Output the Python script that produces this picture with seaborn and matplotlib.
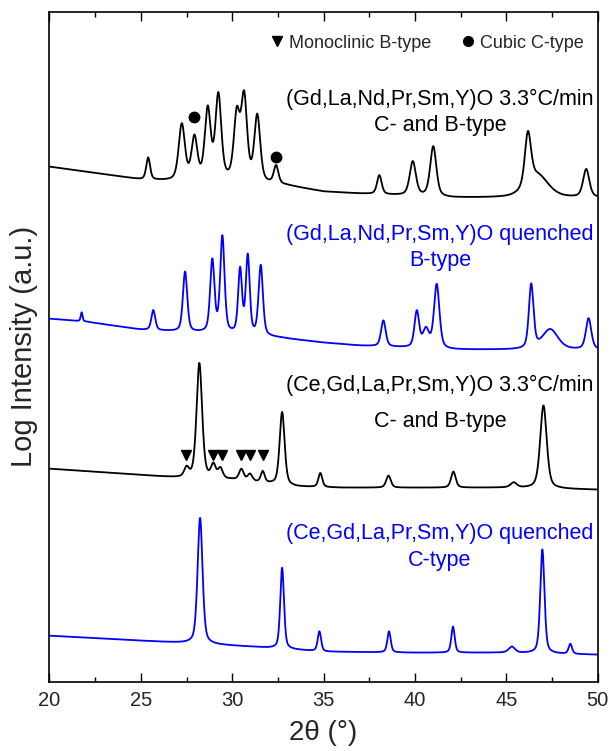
import numpy as np
import pandas as pd
import matplotlib
matplotlib.use("Agg")
import matplotlib.pyplot as plt
import seaborn as sns
from matplotlib.lines import Line2D
from matplotlib.ticker import MultipleLocator

# ---- diffraction patterns: background anchors + reflections (2θ, height, FWHM) ----
# (Gd,La,Nd,Pr,Sm,Y)O, cooled at 3.3 °C/min
gd_slow_bg_x = [20, 22, 25, 27, 30, 33, 35, 37, 42, 45, 50]
gd_slow_bg_y = [515, 510, 502, 500, 500, 496, 490, 488, 484, 484, 484]
gd_slow_pos = [25.40, 27.24, 27.93, 28.66, 29.24, 30.25, 30.65, 31.37, 32.40,
               38.05, 39.88, 41.00, 46.18, 46.70, 49.37]
gd_slow_height = [22, 56, 42, 70, 84, 64, 82, 66, 18,
                  19, 34, 50, 52, 22, 28]
gd_slow_fwhm = [0.25, 0.40, 0.38, 0.38, 0.38, 0.38, 0.38, 0.38, 0.30,
                0.30, 0.40, 0.40, 0.40, 1.40, 0.40]

# (Gd,La,Nd,Pr,Sm,Y)O, quenched
gd_quench_bg_x = [20, 22, 25, 27, 30, 32.5, 35, 37, 42, 45, 50]
gd_quench_bg_y = [363, 360, 352, 350, 347, 344, 339, 336, 332, 332, 332]
gd_quench_pos = [21.76, 25.68, 27.42, 28.91, 29.46, 30.43, 30.85, 31.56,
                 38.27, 40.10, 40.60, 41.19, 46.36, 47.40, 49.50]
gd_quench_height = [9, 20, 60, 72, 96, 64, 78, 70,
                    26, 36, 18, 64, 64, 20, 31]
gd_quench_fwhm = [0.12, 0.25, 0.28, 0.28, 0.28, 0.25, 0.25, 0.28,
                  0.30, 0.30, 0.40, 0.35, 0.30, 1.00, 0.35]

# (Ce,Gd,La,Pr,Sm,Y)O, cooled at 3.3 °C/min
ce_slow_bg_x = [20, 24, 27, 30, 33.5, 36, 45, 50]
ce_slow_bg_y = [213, 208, 204, 202, 195, 194, 194, 192]
ce_slow_pos = [27.50, 28.20, 28.97, 29.35, 30.50, 30.97, 31.67, 32.73,
               34.82, 38.55, 42.10, 45.40, 47.03]
ce_slow_height = [9, 115, 13, 10, 11, 7, 11, 73,
                  14, 12, 16, 5, 83]
ce_slow_fwhm = [0.30, 0.36, 0.30, 0.30, 0.30, 0.30, 0.25, 0.32,
                0.25, 0.30, 0.30, 0.40, 0.42]

# (Ce,Gd,La,Pr,Sm,Y)O, quenched
ce_quench_bg_x = [20, 24, 28, 31, 35, 40, 45, 50]
ce_quench_bg_y = [46, 42, 38, 35, 30, 29, 29, 27]
ce_quench_pos = [28.24, 32.73, 34.77, 38.58, 42.08, 45.30, 46.97, 48.50]
ce_quench_height = [126, 81, 20, 21, 26, 6, 104, 10]
ce_quench_fwhm = [0.32, 0.24, 0.22, 0.22, 0.22, 0.40, 0.27, 0.22]

# reflection markers
b_type_pos = [27.47, 28.97, 29.42, 30.48, 30.97, 31.67]
b_type_level = 227
c_type_pos = [27.93, 32.40]
c_type_level = [565, 525]

pattern_names = [
    "(Gd,La,Nd,Pr,Sm,Y)O 3.3°C/min",
    "(Gd,La,Nd,Pr,Sm,Y)O quenched",
    "(Ce,Gd,La,Pr,Sm,Y)O 3.3°C/min",
    "(Ce,Gd,La,Pr,Sm,Y)O quenched",
]
phase_names = ["C- and B-type", "B-type", "C- and B-type", "C-type"]
pattern_colors = ["black", "#0000ff", "black", "#0000ff"]

two_theta = np.arange(20.0, 50.0001, 0.01)


def pseudo_voigt(x, pos, height, fwhm, eta=0.45):
    d = (x - pos) / fwhm
    lor = 1.0 / (1.0 + 4.0 * d ** 2)
    gau = np.exp(-4.0 * np.log(2.0) * d ** 2)
    return height * (eta * lor + (1.0 - eta) * gau)


def pattern(bg_x, bg_y, pos, height, fwhm):
    y = np.interp(two_theta, bg_x, bg_y).astype(float)
    for p, h, w in zip(pos, height, fwhm):
        y += pseudo_voigt(two_theta, p, h, w)
    return y


curves = [
    pattern(gd_slow_bg_x, gd_slow_bg_y, gd_slow_pos, gd_slow_height, gd_slow_fwhm),
    pattern(gd_quench_bg_x, gd_quench_bg_y, gd_quench_pos, gd_quench_height, gd_quench_fwhm),
    pattern(ce_slow_bg_x, ce_slow_bg_y, ce_slow_pos, ce_slow_height, ce_slow_fwhm),
    pattern(ce_quench_bg_x, ce_quench_bg_y, ce_quench_pos, ce_quench_height, ce_quench_fwhm),
]

df = pd.concat(
    [pd.DataFrame({"two_theta": two_theta, "intensity": c, "pattern": n})
     for c, n in zip(curves, pattern_names)],
    ignore_index=True,
)

sns.set_style("ticks")
plt.rcParams["font.family"] = ["Liberation Sans", "DejaVu Sans"]

fig = plt.figure(figsize=(6.14, 7.51), dpi=100)
ax = fig.add_axes([0.0806, 0.0923, 0.8929, 0.8921])

sns.lineplot(
    data=df, x="two_theta", y="intensity", hue="pattern",
    palette=dict(zip(pattern_names, pattern_colors)),
    estimator=None, sort=False, linewidth=1.3, legend=False, ax=ax,
)

# phase markers
ax.plot(b_type_pos, [b_type_level] * len(b_type_pos), ls="", marker="v",
        color="black", markersize=7.5)
ax.plot(c_type_pos, c_type_level, ls="", marker="o", color="black",
        markersize=7.5)

# sample labels
label_x = 41.37
label_rows = [(582, 556), (447, 421), (296, 260), (148, 121)]
for (y1, y2), name, phase, col in zip(label_rows, pattern_names, phase_names, pattern_colors):
    ax.text(label_x, y1, name, ha="center", va="center", fontsize=15.5, color=col)
    ax.text(label_x, y2, phase, ha="center", va="center", fontsize=15.5, color=col)

handles = [
    Line2D([], [], ls="", marker="v", color="black", markersize=7),
    Line2D([], [], ls="", marker="o", color="black", markersize=7),
]
ax.legend(handles, ["Monoclinic B-type", "Cubic C-type"], ncol=2,
          loc="center right", bbox_to_anchor=(0.975, 0.953), frameon=False,
          fontsize=13, handlelength=0.8, handletextpad=0.3,
          columnspacing=1.6, borderpad=0, borderaxespad=0)

ax.set_xlim(20, 50)
ax.set_ylim(0, 670)
ax.xaxis.set_major_locator(MultipleLocator(5))
ax.xaxis.set_minor_locator(MultipleLocator(2.5))
ax.tick_params(axis="x", which="both", direction="in", top=True, bottom=True,
               labelsize=14.5, pad=7, width=1.0, color="black")
ax.tick_params(axis="x", which="major", length=6.5)
ax.tick_params(axis="x", which="minor", length=3.6)
ax.set_yticks([])
for s in ax.spines.values():
    s.set_visible(True)
    s.set_color("black")
    s.set_linewidth(1.2)

ax.set_xlabel("2θ (°)", fontsize=20, labelpad=7)
ax.set_ylabel("Log Intensity (a.u.)", fontsize=21, labelpad=8)

fig.savefig("out.png", dpi=100)
